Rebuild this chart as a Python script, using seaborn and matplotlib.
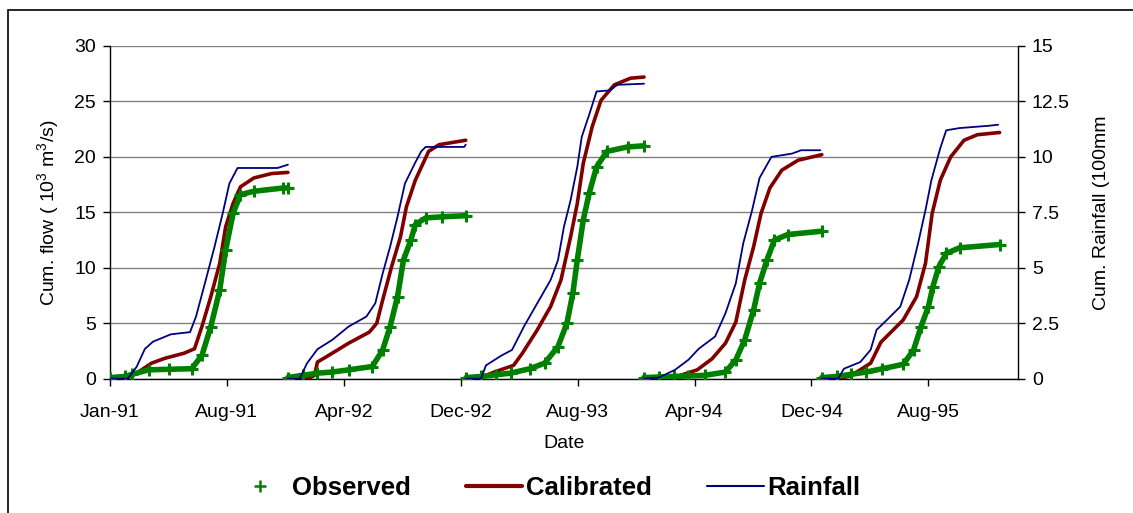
import numpy as np
import pandas as pd
import matplotlib
matplotlib.use("Agg")
import matplotlib.pyplot as plt
import matplotlib.dates as mdates
from matplotlib.lines import Line2D
from matplotlib.patches import Rectangle
import seaborn as sns

# Water years shown; cumulative totals restart every January.
years = [1991, 1992, 1993, 1994, 1995]

# Observed cumulative flow (10^3 m3/s): month-of-year position and value
obs_month = {
    1991: [0, 1.0, 1.5, 2.6, 4.0, 5.5, 6.2, 6.8, 7.4, 7.8, 8.3, 8.8, 9.7, 11.7, 12.0],
    1992: [0, 1.0, 2.0, 3.0, 4.1, 5.7, 6.4, 6.9, 7.4, 7.8, 8.3, 8.6, 9.3, 10.4, 12.0],
    1993: [0, 1.0, 2.0, 3.0, 4.3, 5.3, 6.2, 6.8, 7.2, 7.5, 7.9, 8.3, 8.8, 9.5, 10.9, 12.0],
    1994: [0, 1.0, 2.0, 3.0, 4.1, 5.5, 6.2, 6.8, 7.4, 7.8, 8.3, 8.8, 9.7, 12.0],
    1995: [0, 1.0, 2.0, 3.0, 4.1, 5.5, 6.2, 6.7, 7.2, 7.5, 7.9, 8.4, 9.3, 12.0],
}
obs_value = {
    1991: [0.1, 0.2, 0.4, 0.8, 0.85, 0.9, 2.1, 4.7, 8.0, 11.6, 14.9, 16.6, 16.9, 17.2, 17.2],
    1992: [0.1, 0.3, 0.5, 0.6, 0.8, 1.1, 2.6, 4.7, 7.4, 10.7, 12.5, 13.9, 14.5, 14.6, 14.7],
    1993: [0.1, 0.2, 0.35, 0.5, 0.9, 1.4, 2.9, 5.0, 7.7, 10.7, 14.3, 16.7, 19.1, 20.5, 20.9, 21.0],
    1994: [0.1, 0.15, 0.2, 0.25, 0.3, 0.6, 1.7, 3.5, 6.2, 8.6, 10.7, 12.5, 13.0, 13.3],
    1995: [0.1, 0.2, 0.4, 0.6, 0.9, 1.3, 2.6, 4.7, 6.5, 8.3, 10.1, 11.3, 11.8, 12.1],
}

# Calibrated model cumulative flow (10^3 m3/s)
cal_month = {
    1991: [0, 1.2, 1.8, 2.8, 3.7, 5.0, 5.7, 6.2, 6.8, 7.4, 7.8, 8.3, 8.8, 9.7, 10.9, 12.0],
    1992: [0, 1.5, 1.8, 2.0, 3.0, 4.1, 5.5, 6.0, 6.4, 7.0, 7.6, 8.0, 8.6, 9.5, 10.2, 12.0],
    1993: [0, 1.0, 1.9, 3.2, 3.8, 4.8, 5.7, 6.4, 7.05, 7.5, 7.9, 8.5, 9.1, 10.0, 11.1, 12.0],
    1994: [0, 2.0, 3.6, 4.6, 5.5, 6.2, 6.8, 7.4, 7.9, 8.5, 9.3, 10.4, 12.0],
    1995: [0, 1.5, 2.0, 2.6, 3.3, 4.0, 5.5, 6.4, 7.0, 7.45, 8.0, 8.7, 9.6, 10.5, 12.0],
}
cal_value = {
    1991: [0.0, 0.1, 0.5, 1.4, 1.84, 2.3, 2.7, 4.7, 7.4, 10.4, 13.7, 15.8, 17.3, 18.1, 18.5, 18.6],
    1992: [0.0, 0.1, 0.3, 1.5, 2.3, 3.2, 4.2, 5.0, 7.1, 10.1, 12.8, 15.5, 17.9, 20.5, 21.1, 21.5],
    1993: [0.0, 0.1, 0.6, 1.2, 2.3, 4.4, 6.5, 8.9, 12.8, 15.8, 19.4, 22.7, 25.1, 26.5, 27.1, 27.2],
    1994: [0.0, 0.1, 0.8, 1.8, 3.2, 5.1, 8.9, 11.9, 14.9, 17.2, 18.8, 19.7, 20.2],
    1995: [0.0, 0.1, 0.3, 0.8, 1.4, 3.3, 5.3, 7.4, 10.4, 14.9, 17.9, 20.0, 21.5, 22.0, 22.2],
}

# Cumulative rainfall (units of 100 mm)
rain_month = {
    1991: [0, 1.2, 1.8, 2.35, 2.9, 4.1, 5.4, 5.8, 6.4, 7.05, 7.6, 8.05, 8.6, 11.3, 12.0],
    1992: [0, 0.8, 1.3, 2.0, 3.0, 4.1, 5.3, 5.9, 6.4, 6.9, 7.4, 7.9, 8.6, 9.0, 9.3, 11.9, 12.0],
    1993: [0, 1.0, 1.34, 2.35, 3.1, 3.9, 4.8, 5.7, 6.2, 6.6, 7.05, 7.5, 7.8, 8.3, 8.8, 9.7, 10.2, 12.0],
    1994: [0, 1.0, 2.1, 3.0, 3.7, 4.8, 5.5, 6.2, 6.7, 7.3, 7.8, 8.6, 10.0, 10.6, 11.9],
    1995: [0, 1.1, 1.5, 2.6, 3.3, 3.7, 4.4, 5.3, 5.9, 6.5, 7.0, 7.4, 8.0, 8.4, 9.3, 11.2, 11.9],
}
rain_value = {
    1991: [0, 0, 0.54, 1.34, 1.67, 2.0, 2.1, 2.8, 4.3, 5.95, 7.45, 8.8, 9.5, 9.5, 9.65],
    1992: [0, 0, 0.7, 1.33, 1.75, 2.35, 2.8, 3.4, 4.75, 5.95, 7.3, 8.8, 9.75, 10.25, 10.45, 10.45, 10.55],
    1993: [0, 0, 0.6, 1.03, 1.3, 2.35, 3.4, 4.45, 5.35, 6.85, 8.05, 9.55, 10.9, 11.9, 12.95, 13.0, 13.25, 13.3],
    1994: [0, 0.05, 0.4, 0.85, 1.35, 1.9, 2.95, 4.3, 6.1, 7.6, 9.05, 10.0, 10.15, 10.3, 10.3],
    1995: [0, 0, 0.45, 0.75, 1.3, 2.2, 2.65, 3.25, 4.45, 6.1, 7.6, 8.95, 10.4, 11.2, 11.3, 11.4, 11.45],
}

flow_ticks = [0, 5, 10, 15, 20, 25, 30]
rain_ticks = [0, 2.5, 5, 7.5, 10, 12.5, 15]
rain_tick_labels = ["0", "2.5", "5", "7.5", "10", "12.5", "15"]

GREEN = "#008000"
MAROON = "#800000"
NAVY = "#000080"


def to_frame(months, values):
    rows = []
    for y in years:
        start = pd.Timestamp(year=y, month=1, day=1)
        dates = start + pd.to_timedelta(np.asarray(months[y]) * 30.4375, unit="D")
        rows.append(pd.DataFrame({"date": dates, "value": values[y], "year": y}))
    return pd.concat(rows, ignore_index=True)


obs_df = to_frame(obs_month, obs_value)
cal_df = to_frame(cal_month, cal_value)
rain_df = to_frame(rain_month, rain_value)

sns.set_theme(style="white")
plt.rcParams["font.family"] = ["Liberation Sans", "DejaVu Sans"]
plt.rcParams["mathtext.fontset"] = "custom"
plt.rcParams["mathtext.rm"] = "Liberation Sans"
for key in ["text.color", "axes.labelcolor", "xtick.color", "ytick.color",
            "xtick.labelcolor", "ytick.labelcolor"]:
    plt.rcParams[key] = "black"

fig = plt.figure(figsize=(11.33, 5.13), dpi=100)
ax = fig.add_axes([110 / 1133, 1 - 378.7 / 513, 908 / 1133, 332.7 / 513])
ax.set_facecolor("white")

# Calibrated and observed flow on the primary axis
sns.lineplot(data=cal_df, x="date", y="value", units="year", estimator=None,
             color=MAROON, lw=2.6, ax=ax, zorder=3)
sns.lineplot(data=obs_df, x="date", y="value", units="year", estimator=None,
             color=GREEN, lw=4.0, ax=ax, zorder=4)
sns.scatterplot(data=obs_df, x="date", y="value", marker="+", s=70,
                color=GREEN, linewidth=2.2, ax=ax, zorder=5)

ax.set_ylim(0, 30)
ax.set_yticks(flow_ticks)
ax.set_xlim(pd.Timestamp("1991-01-01"), pd.Timestamp("1996-02-08"))
xticks = [pd.Timestamp("1991-01-01") + pd.Timedelta(days=240 * k) for k in range(8)]
ax.set_xticks(xticks)
ax.xaxis.set_major_formatter(mdates.DateFormatter("%b-%y"))
ax.grid(axis="y", color="#808080", lw=1.0)
ax.grid(axis="x", visible=False)
for side in ["left", "bottom"]:
    ax.spines[side].set_color("black")
    ax.spines[side].set_linewidth(1.0)
ax.spines["top"].set_visible(False)
ax.spines["right"].set_visible(False)
ax.tick_params(axis="y", which="major", left=True, direction="out", length=5,
               width=1, color="black", labelcolor="black", labelsize=14, pad=5)
ax.tick_params(axis="x", which="major", bottom=True, direction="out", length=5,
               width=1, color="black", labelcolor="black", labelsize=14, pad=13)

ax.set_ylabel(r"Cum. flow ( 10$^3$ m$^3$/s)", fontsize=14, color="black")
ax.yaxis.set_label_coords((49 - 110) / 908, 0.5)
ax.yaxis.label.set_verticalalignment("center")
ax.set_xlabel("Date", fontsize=14, color="black")
ax.xaxis.set_label_coords(0.5, (378.7 - 443) / 332.7)
ax.xaxis.label.set_verticalalignment("center")

# Rainfall on the secondary axis
ax2 = ax.twinx()
sns.lineplot(data=rain_df, x="date", y="value", units="year", estimator=None,
             color=NAVY, lw=1.3, ax=ax2, zorder=3)
ax2.set_ylim(0, 15)
ax2.set_yticks(rain_ticks)
ax2.set_yticklabels(rain_tick_labels)
ax2.grid(False)
for side in ["left", "bottom", "top"]:
    ax2.spines[side].set_visible(False)
ax2.spines["right"].set_color("black")
ax2.spines["right"].set_linewidth(1.0)
ax2.tick_params(axis="y", right=True, direction="out", length=5, width=1,
                color="black", labelcolor="black", labelsize=14, pad=5)
ax2.set_ylabel("Cum. Rainfall (100mm", fontsize=14, rotation=90, color="black")
ax2.yaxis.set_label_coords((1101 - 110) / 908, 0.5)
ax2.yaxis.label.set_verticalalignment("center")
ax2.set_xlabel("")

handles = [
    Line2D([], [], color=GREEN, marker="+", ls="none", markersize=8, mew=1.8),
    Line2D([], [], color=MAROON, lw=3),
    Line2D([], [], color=NAVY, lw=1.5),
]
leg = fig.legend(handles, ["Observed", "Calibrated", "Rainfall"], ncol=3,
                 loc="center", bbox_to_anchor=(546 / 1133, 1 - 488 / 513),
                 frameon=False, handlelength=2.2, handletextpad=0.15,
                 columnspacing=2.15, prop={"weight": "bold", "size": 18.5})
for t in leg.get_texts():
    t.set_color("black")

# Outer chart frame
fig.patches.append(Rectangle((8 / 1133, -0.5), 2.0, 1.5 - 10 / 513,
                             transform=fig.transFigure, fill=False,
                             ec="black", lw=1.2))

fig.savefig("out.png", dpi=100)
